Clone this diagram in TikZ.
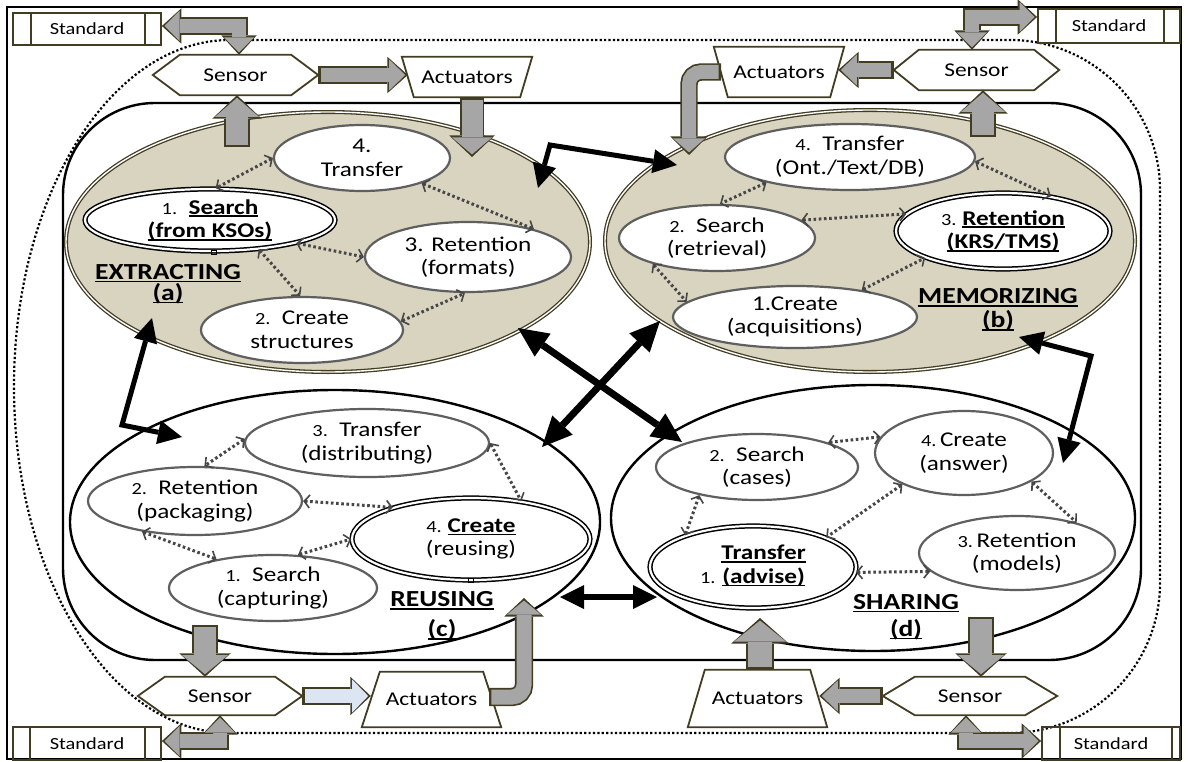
\documentclass[tikz,border=0pt]{standalone}
\usepackage{fontspec}
\setmainfont{Carlito}[FakeStretch=1.2]
\usetikzlibrary{arrows.meta,shapes.geometric,calc}

\definecolor{tanfill}{RGB}{217,212,191}
\definecolor{olivec}{RGB}{66,60,34}
\definecolor{fatgray}{RGB}{166,166,166}
\definecolor{paleblue}{RGB}{220,230,242}
\definecolor{dotgray}{RGB}{70,70,70}
\definecolor{subgray}{RGB}{95,95,95}

\newcommand\ellfont{\fontsize{21}{23.5}\selectfont}
\newcommand\lblfont{\fontsize{23}{22}\selectfont\bfseries}
\newcommand\stdfont{\fontsize{17}{19}\selectfont}
\newcommand\sbxfont{\fontsize{19.5}{21}\selectfont}
\newcommand\nsm[1]{{\fontsize{17}{19}\selectfont #1}}
% bold text with a heavy underline
\newcommand\ulbf[1]{\leavevmode\setbox0=\hbox{\bfseries #1}\rlap{\rule[-3pt]{\wd0}{1.7pt}}\box0}

% hexagonal sensor outline around a node
\newcommand\hexbox[2]{\draw[boxline] (#1.west) -- ([xshift=#2]#1.north west) -- ([xshift=-#2]#1.north east) -- (#1.east) -- ([xshift=-#2]#1.south east) -- ([xshift=#2]#1.south west) -- cycle;}
% trapezoid actuator outline: #2 inset of top corners, #3 inset of bottom corners
\newcommand\trapbox[3]{\draw[boxline] ([xshift=#2]#1.north west) -- ([xshift=-#2]#1.north east) -- ([xshift=-#3]#1.south east) -- ([xshift=#3]#1.south west) -- cycle;}
% block arrow: [fill] {tips/options} {shaft} {head width} {head length} {path}
\newcommand\fatarrow[6][fatgray]{%
  \pgfmathsetmacro\fatO{#3+3.4}%
  \pgfmathsetmacro\fatW{#4+5.5}%
  \pgfmathsetmacro\fatL{#5+4.5}%
  \draw[line width=\fatO pt, draw=olivec, line join=miter, #2,
        >={Triangle[width=\fatW pt,length=\fatL pt,line width=0pt]}] #6;
  \draw[line width=#3pt, draw=#1, line join=miter, #2, shorten >=2.6pt, shorten <=2.4pt,
        >={Triangle[width=#4pt,length=#5pt,line width=0pt]}] #6;
}

\begin{document}
\begin{tikzpicture}[x=1pt,y=-1pt,
  sub/.style={ellipse, draw=subgray, line width=2.2pt, fill=white, inner sep=0pt, align=center, font=\ellfont},
  dbl/.style={ellipse, draw=black, double=white, double distance=2.2pt, line width=1.5pt, fill=white, inner sep=0pt, align=center, font=\ellfont},
  esz/.style 2 args={minimum width=#1pt, minimum height=#2pt},
  bigtan/.style={ellipse, draw=olivec, double=white, double distance=1.4pt, line width=1.3pt, fill=tanfill, inner sep=0pt},
  bigwhite/.style={ellipse, draw=black, line width=2.4pt, fill=white, inner sep=0pt},
  lbl/.style={align=center, font=\lblfont, inner sep=0pt},
  stdbox/.style={draw=olivec, line width=1.8pt, inner sep=0pt, font=\stdfont},
  sbx/.style={inner sep=0pt, font=\sbxfont},
  boxline/.style={draw=olivec, line width=1.8pt, line join=miter},
  dotarr/.style={draw=dotgray, line width=3pt, dash pattern=on 2.6pt off 2.6pt,
     >={Straight Barb[length=5.5pt,width=13pt,line width=1.6pt]}, <->},
  blk/.style={draw=black, line width=5pt, line join=miter,
     >={Triangle[width=24pt,length=24pt,line width=0pt]}, <->},
  blkx/.style={draw=black, line width=7pt,
     >={Triangle[width=28pt,length=30pt,line width=0pt]}, <->},
  dotline/.style={draw=black, line width=2.2pt, dash pattern=on 2.2pt off 2.2pt},
]
\useasboundingbox (0,0) rectangle (1188,762);

% frame
\draw[line width=2.4pt] (7,7) rectangle (1181,759);

% dotted environment boundary
\draw[dotline] (230,40) -- (1010,40) arc[start angle=-90,end angle=0,radius=150]
  -- (1160,583) arc[start angle=0,end angle=90,radius=150]
  -- (230,733) arc[start angle=90,end angle=270,x radius=216,y radius=346.5] -- cycle;

% organisation boundary
\draw[line width=2.4pt, rounded corners=92pt] (63,380) -- (63,103) -- (1141,103) -- (1141,660) -- (63,660) -- cycle;

% the four phases
\node[bigtan, esz={524}{260}] (ellA) at (328,242) {};
\node[bigtan, esz={530}{262}] (ellB) at (870,241) {};
\node[bigwhite, esz={530}{264}] (ellC) at (335,522) {};
\node[bigwhite, esz={524}{266}] (ellD) at (873,518) {};

% (a) extracting
\node[sub, esz={176}{66}] (trA) at (362,158) {4.\\Transfer};
\node[dbl, esz={250}{62}] (srA) at (210,220) {\nsm{1.}\ \ \ulbf{Search}\\\ulbf{(from KSOs)}};
\node[sub, esz={206}{70}] (reA) at (468,257) {3. Retention\\(formats)};
\node[sub, esz={202}{66}] (crA) at (302,330) {\nsm{2.}\ \ Create\\structures};
\draw[line width=0.8pt] (211,250) rectangle (216,254);
\node[lbl] (labA) at (168,284) {\ulbf{EXTRACTING}\\[-1pt]\ulbf{(a)}};

% (b) memorizing
\node[sub, esz={250}{66}] (trB) at (850,157) {\nsm{4.}\ \ Transfer\\(Ont./Text/DB)};
\node[sub, esz={196}{66}] (seB) at (717,238) {\nsm{2.}\ \ Search\\(retrieval)};
\node[dbl, esz={214}{76}] (rtB) at (1003,231) {\nsm{3.}\ \ulbf{Retention}\\\ulbf{(KRS/TMS)}};
\node[sub, esz={244}{62}] (crB) at (795,317) {1.Create\\(acquisitions)};
\node[lbl] (labB) at (998,310) {\ulbf{MEMORIZING}\\[2pt]\ulbf{(b)}};

% (c) reusing
\node[sub, esz={244}{68}] (trC) at (367,443) {\nsm{3.}\ \ Transfer\\(distributing)};
\node[sub, esz={214}{68}] (rtC) at (195,501) {\nsm{2.}\ \ Retention\\(packaging)};
\node[dbl, esz={238}{82}] (crC) at (471,539) {\nsm{4.}\ \ulbf{Create}\\(reusing)};
\node[sub, esz={208}{66}] (seC) at (273,588) {\nsm{1.}\ \ Search\\(capturing)};
\draw[line width=0.8pt] (468,578) rectangle (473,582);
\node[lbl] (labC) at (442,616) {\ulbf{REUSING}\\[8pt]\ulbf{(c)}};

% (d) sharing
\node[sub, esz={202}{66}] (seD) at (757,467) {\nsm{2.}\ \ Search\\(cases)};
\node[sub, esz={178}{84}] (crD) at (964,453) {\nsm{4.}\,Create\\(answer)};
\node[sub, esz={196}{74}] (rtD) at (1017,553) {\nsm{3.}\,Retention\\(models)};
\node[dbl, esz={206}{82}] (tfD) at (753,567) {\nsm{1.}\ \begin{tabular}[b]{@{}c@{}}\ulbf{Transfer}\\\ulbf{(advise)}\end{tabular}};
\node[lbl] (labD) at (906,617) {\ulbf{SHARING}\\[5pt]\ulbf{(d)}};

% links inside each phase
\draw[dotarr] (trA.180) -- (srA.80);
\draw[dotarr] (trA.-23) -- (reA.23);
\draw[dotarr] (srA.-15) -- (reA.180);
\draw[dotarr] (srA.-31) -- (crA.93);
\draw[dotarr] (crA.5) -- (reA.-95);

\draw[dotarr] (trB.-163) -- (seB.85);
\draw[dotarr] (trB.-2) -- (rtB.36);
\draw[dotarr] (seB.12) -- (rtB.170);
\draw[dotarr] (seB.-158) -- (crB.172);
\draw[dotarr] (crB.22) -- (rtB.-161);

\draw[dotarr] (trC.178) -- (rtC.75);
\draw[dotarr] (trC.0) -- (crC.37);
\draw[dotarr] (rtC.0) -- (crC.158);
\draw[dotarr] (rtC.-150) -- (seC.153);
\draw[dotarr] (seC.53) -- (crC.180);

\draw[dotarr] (seD.19) -- (crD.169);
\draw[dotarr] (seD.-154) -- (tfD.155);
\draw[dotarr] (crD.-153) -- (tfD.22);
\draw[dotarr] (crD.-23) -- (rtD.27);
\draw[dotarr] (tfD.-3) -- (rtD.-168);

% links between phases
\coordinate (bt1) at (538,188); \coordinate (bt2) at (550,145); \coordinate (bt3) at (677,165);
\draw[blk] (bt1) -- (bt2) -- (bt3);
\coordinate (bl1) at (152,318); \coordinate (bl2) at (122,425); \coordinate (bl3) at (182,437);
\draw[blk] (bl1) -- (bl2) -- (bl3);
\coordinate (br1) at (1019,337); \coordinate (br2) at (1091,356); \coordinate (br3) at (1063,463);
\draw[blk] (br1) -- (br2) -- (br3);
\coordinate (xa1) at (518,328); \coordinate (xa2) at (682,442);
\coordinate (xb1) at (660,321); \coordinate (xb2) at (542,447);
\draw[blkx] (xa1) -- (xa2);
\draw[blkx] (xb1) -- (xb2);
\coordinate (hz1) at (560,597); \coordinate (hz2) at (657,597);
\draw[blk, line width=6pt] (hz1) -- (hz2);

% standards, sensors and actuators
\node[stdbox, minimum width=148pt, minimum height=32pt] (stdA) at (87,29) {Standard};
\node[stdbox, minimum width=142pt, minimum height=34pt] (stdB) at (1109,26) {Standard};
\node[stdbox, minimum width=148pt, minimum height=33pt] (stdC) at (87,743.5) {Standard};
\node[stdbox, minimum width=138pt, minimum height=33pt] (stdD) at (1111,743.5) {Standard};
\foreach \s/\l/\r in {stdA/19/17, stdB/19/17, stdC/18/17, stdD/19/9}{
  \draw[boxline] ([xshift=\l pt]\s.north west) -- ([xshift=\l pt]\s.south west);
  \draw[boxline] ([xshift=-\r pt]\s.north east) -- ([xshift=-\r pt]\s.south east);
}

\node[sbx, minimum width=165pt, minimum height=40pt] (sA) at (235.5,75) {Sensor};
\node[sbx, minimum width=165pt, minimum height=40pt] (sB) at (976.5,70) {Sensor};
\node[sbx, minimum width=164pt, minimum height=38pt] (sC) at (220,696) {Sensor};
\node[sbx, minimum width=174pt, minimum height=38pt] (sD) at (970,696) {Sensor};
\hexbox{sA}{27pt}\hexbox{sB}{25pt}\hexbox{sC}{27pt}\hexbox{sD}{32pt}

\node[sbx, minimum width=130pt, minimum height=40pt] (aA) at (467,77) {Actuators};
\node[sbx, minimum width=130pt, minimum height=50pt] (aB) at (779,72) {Actuators};
\node[sbx, minimum width=139pt, minimum height=55pt] (aC) at (431.5,699.5) {Actuators};
\node[sbx, minimum width=139pt, minimum height=57pt] (aD) at (757.5,698.5) {Actuators};
\trapbox{aA}{0pt}{12pt}\trapbox{aB}{0pt}{14pt}\trapbox{aC}{18pt}{0pt}\trapbox{aD}{17pt}{0pt}

% block arrows between phases, sensors, actuators and standards
\coordinate (kA) at (239,26);
\fatarrow{<->}{14}{30}{15}{(kA |- sA.north) -- (kA) -- (kA -| stdA.east)}
\fatarrow{->}{14}{31}{16}{(sA.east) -- ([xshift=6pt]sA.east -| aA.west)}
\coordinate (tA) at (237,147);
\fatarrow{->}{22}{44}{19}{(tA) -- (tA |- sA.south)}
\coordinate (hA) at (472,157);
\fatarrow{->}{21}{40}{17}{(hA |- aA.south) -- (hA)}

\coordinate (kB) at (972,17);
\fatarrow{<->}{14}{30}{15}{(kB |- sB.north) -- (kB) -- (kB -| stdB.west)}
\fatarrow{->}{14}{31}{16}{(sB.west) -- ([xshift=-6pt]sB.west -| aB.east)}
\coordinate (tB) at (983,137);
\fatarrow{->}{22}{44}{19}{(tB) -- (tB |- sB.south)}
\coordinate (oB) at (721,72); \coordinate (kB2) at (689,72); \coordinate (hB) at (689,155);
\fatarrow{->, rounded corners=12pt}{14}{32}{14}{(oB) -- (kB2) -- (hB)}

\coordinate (tC) at (205,625);
\fatarrow{->}{22}{46}{19}{(tC) -- (tC |- sC.north)}
\fatarrow[paleblue]{->}{14}{33}{16}{(sC.east) -- ([xshift=9pt]sC.east -| aC.west)}
\coordinate (oC) at (489,697); \coordinate (kC2) at (524,697); \coordinate (hC) at (524,598);
\fatarrow{->, rounded corners=12pt}{15}{34}{14}{(oC) -- (kC2) -- (hC)}
\coordinate (kC) at (220,741);
\fatarrow{<->}{14}{30}{15}{(kC |- sC.south) -- (kC) -- (kC -| stdC.east)}

\coordinate (tD) at (760,618);
\fatarrow{->}{24}{52}{21}{(tD |- aD.north) -- (tD)}
\coordinate (hD) at (981,617);
\fatarrow{->}{22}{46}{19}{(hD) -- (hD |- sD.north)}
\fatarrow{->}{14}{31}{16}{(sD.west) -- ([xshift=-8pt]sD.west -| aD.east)}
\coordinate (kD) at (966,741);
\fatarrow{<->}{14}{30}{15}{(kD |- sD.south) -- (kD) -- (kD -| stdD.west)}
\end{tikzpicture}
\end{document}
